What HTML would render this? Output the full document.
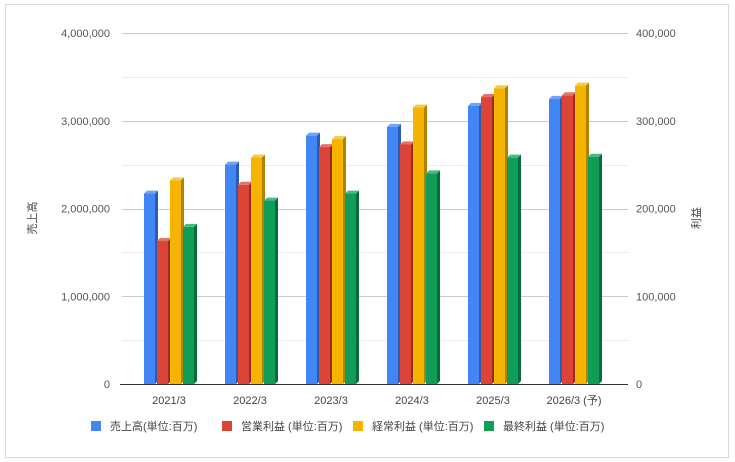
<!DOCTYPE html>
<html><head><meta charset="utf-8"><style>
html,body{margin:0;padding:0;background:#fff;}
svg{display:block;font-family:"Liberation Sans","Noto Sans CJK JP",sans-serif;}
</style></head><body>
<svg id="chart" width="735" height="462">
<rect x="5.5" y="4.5" width="723" height="453" fill="#fff" stroke="#d9d9d9"/>
<g id="grid"></g><g id="bars"></g><g id="labels"></g>
<text x="36" y="218" font-size="11" fill="#444" text-anchor="middle" transform="rotate(-90 36 218)">売上高</text>
<text x="700" y="218" font-size="11" fill="#444" text-anchor="middle" transform="rotate(-90 700 218)">利益</text>
<g id="legend"></g>
</svg>
<script>
const categories=["2021/3","2022/3","2023/3","2024/3","2025/3","2026/3 (予)"];
const sales=[2170000,2500000,2830000,2930000,3170000,3250000];
const operating=[163000,227000,270000,273000,327000,329000];
const ordinary=[232000,258000,279000,315000,337000,340000];
const net=[179000,209000,217000,240000,258000,259000];
const leftTicks=["0","1,000,000","2,000,000","3,000,000","4,000,000"];
const rightTicks=["0","100,000","200,000","300,000","400,000"];
const seriesNames=["売上高(単位:百万)","営業利益 (単位:百万)","経常利益 (単位:百万)","最終利益 (単位:百万)"];
const NS="http://www.w3.org/2000/svg";
const y0=384,yTop=33;
const yL=v=>y0-(v/4000000)*(y0-yTop);
const yR=v=>y0-(v/400000)*(y0-yTop);
const xC=i=>169+i*81;
function mk(tag,attrs,parent){const e=document.createElementNS(NS,tag);for(const k in attrs)e.setAttribute(k,attrs[k]);parent.appendChild(e);return e;}
const grid=document.getElementById('grid'),bars=document.getElementById('bars'),labels=document.getElementById('labels'),legend=document.getElementById('legend');
for(let k=1;k<=8;k++){const v=k*500000;const y=Math.round(yL(v))+0.5;
 const l=mk('line',{x1:122,x2:628,y1:y,y2:y,stroke:k%2?'#ececec':'#cccccc','stroke-width':1},grid);
 
 }
for(let k=0;k<leftTicks.length;k++){const y=yL(k*1000000)+4;
 const t=mk('text',{x:110,y:y,'font-size':11,fill:'#555','text-anchor':'end'},labels);t.textContent=leftTicks[k];
 
 
 const r=mk('text',{x:636,y:y,'font-size':11,fill:'#555','text-anchor':'start'},labels);r.textContent=rightTicks[k];
 
 }
const colors=[["#4285f4","#2a5db0","#6fa3f7"],["#db4437","#9b2c24","#e5736a"],["#f4b400","#b08200","#f7c94a"],["#0f9d58","#086b3b","#4bb882"]];
const data=[sales,operating,ordinary,net];
const scales=[yL,yR,yR,yR];
const bw=11,gap=2,d=3;
categories.forEach((c,i)=>{
 const start=xC(i)-(4*bw+3*gap)/2;
 data.forEach((s,j)=>{
  const x=start+j*(bw+gap),y=scales[j](s[i]),h=y0-y;
  const g=mk('g',{},bars);
  
  
  mk('polygon',{points:`${x+bw},${y} ${x+bw+d},${y-d} ${x+bw+d},${y0-d} ${x+bw},${y0}`,fill:colors[j][1]},g);
  mk('polygon',{points:`${x},${y} ${x+d},${y-d} ${x+bw+d},${y-d} ${x+bw},${y}`,fill:colors[j][2]},g);
  mk('rect',{x:x,y:y,width:bw,height:h,fill:colors[j][0]},g);
 });
 const t=mk('text',{x:xC(i),y:404,'font-size':11,fill:'#444','text-anchor':'middle'},labels);t.textContent=c;
 
 
});
const ax=mk('line',{x1:120,x2:628,y1:y0+0.5,y2:y0+0.5,stroke:'#333','stroke-width':1},labels);


const lx=[91,222,353,484];
seriesNames.forEach((n,j)=>{
 const g=mk('g',{},legend);
 
 
 mk('rect',{x:lx[j],y:421,width:10,height:10,fill:colors[j][0]},g);
 const t=mk('text',{x:lx[j]+19,y:430,'font-size':11,fill:'#444'},g);t.textContent=n;
});
</script>
</body></html>
